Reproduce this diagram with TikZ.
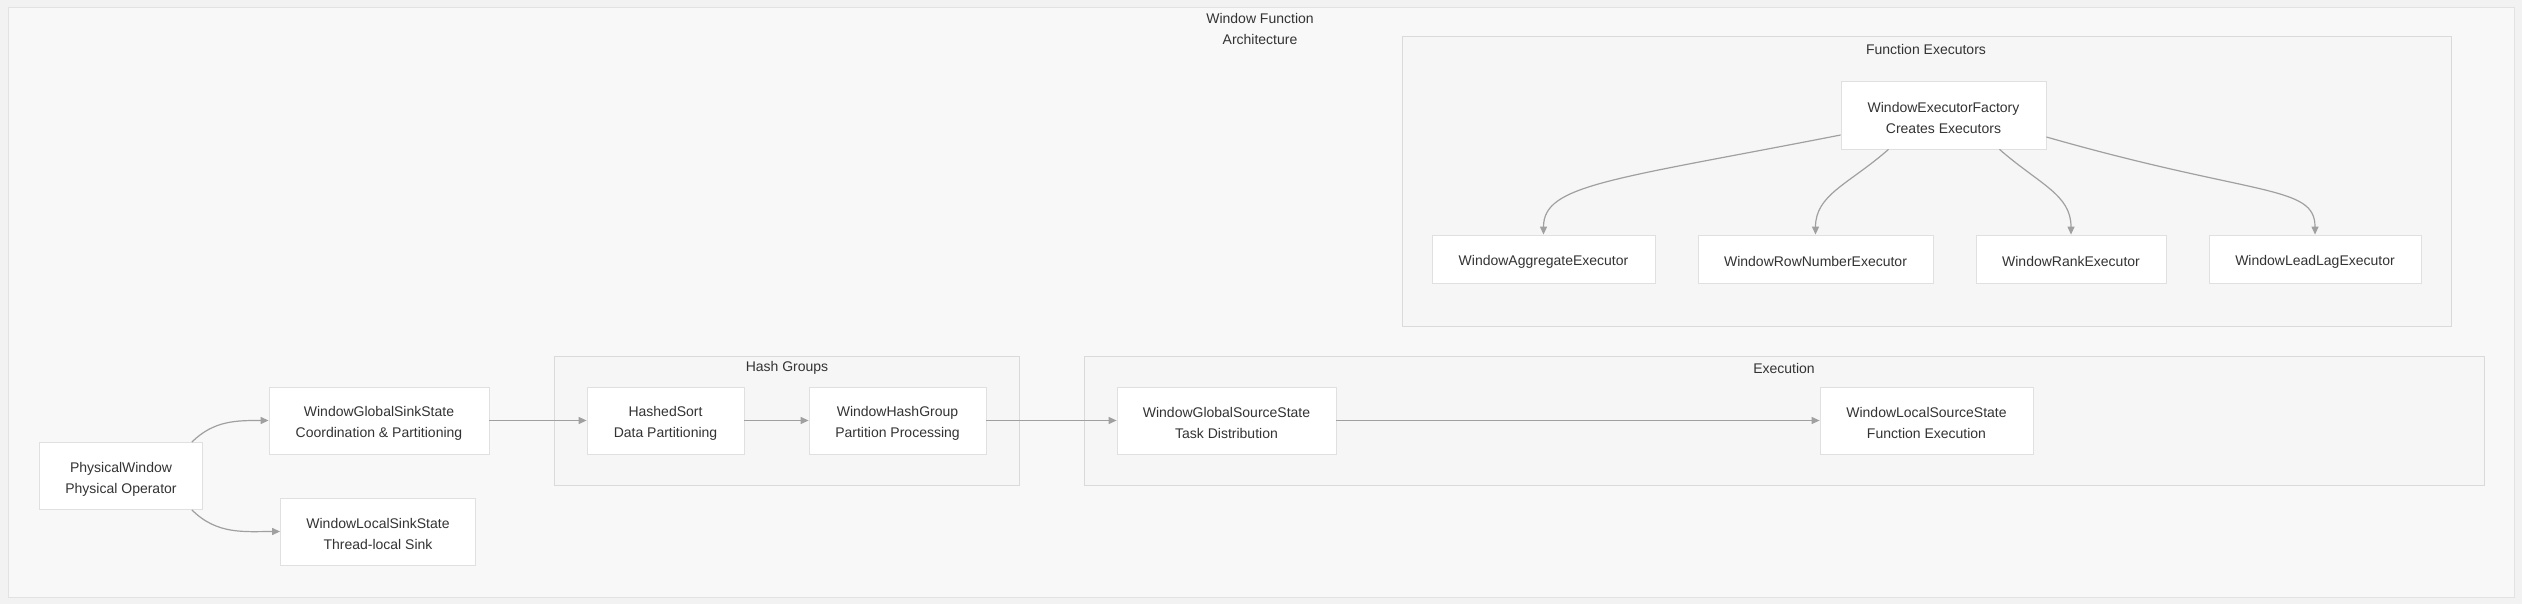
\documentclass[tikz,border=0pt]{standalone}
\usepackage{fontspec}
\setmainfont{Liberation Sans}
\usetikzlibrary{arrows.meta}
\definecolor{pagecol}{HTML}{F2F2F2}
\definecolor{framecol}{HTML}{F8F8F8}
\definecolor{frameline}{HTML}{E2E2E2}
\definecolor{clusfill}{HTML}{F6F6F6}
\definecolor{clusline}{HTML}{DADADA}
\definecolor{boxline}{HTML}{E0E0E0}
\definecolor{linkcol}{HTML}{A0A0A0}
\definecolor{textcol}{HTML}{333333}
\begin{document}
\begin{tikzpicture}[x=1pt, y=-1pt,
  every node/.style={font=\fontsize{14}{21}\selectfont, text=textcol},
  boxbase/.style={draw=boxline, fill=white, line width=0.8pt, align=center, inner sep=0pt},
  block/.style={boxbase, minimum height=67pt, execute at begin node={\rule{0pt}{37pt}}},
  flat/.style={boxbase, minimum height=48pt, execute at begin node={\rule{0pt}{16pt}}},
  cluster/.style={draw=clusline, fill=clusfill, line width=1pt},
  link/.style={draw=linkcol, line width=1.2pt, -{Triangle[length=8pt,width=7pt]}}]
  \useasboundingbox (0,0) rectangle (2522,604);
  \fill[pagecol] (0,0) rectangle (2522,604);
  \draw[draw=frameline, fill=framecol, line width=1pt] (8,8) rectangle (2514,597);
  \node[align=center] (title) at (1260,29) {Window Function\\Architecture};

  \draw[cluster] (1402,37) rectangle (2451,326);
  \node (execlbl) at (1926,49) {Function Executors};
  \draw[cluster] (554.5,356) rectangle (1019,485);
  \node (hashlbl) at (787,368) {Hash Groups};
  \draw[cluster] (1084,356) rectangle (2484.5,485);
  \node (runlbl) at (1784,368) {Execution};

  \node[block, minimum width=163pt] (pw) at (121,476) {PhysicalWindow\\Physical Operator};
  \node[block, minimum width=220pt] (gss) at (379,420.5) {WindowGlobalSinkState\\Coordination \& Partitioning};
  \node[block, minimum width=195pt] (lss) at (378,531.5) {WindowLocalSinkState\\Thread-local Sink};
  \node[block, minimum width=157pt] (hs) at (665.5,420.5) {HashedSort\\Data Partitioning};
  \node[block, minimum width=177pt] (hg) at (897.5,420.5) {WindowHashGroup\\Partition Processing};
  \node[block, minimum width=219pt] (gsrc) at (1226.5,420.5) {WindowGlobalSourceState\\Task Distribution};
  \node[block, minimum width=213pt] (lsrc) at (1926.5,420.5) {WindowLocalSourceState\\Function Execution};

  \node[block, minimum width=205pt, minimum height=68pt] (fac) at (1943.5,115) {WindowExecutorFactory\\Creates Executors};
  \node[flat, minimum width=223pt] (agg) at (1543.5,259) {WindowAggregateExecutor};
  \node[flat, minimum width=235pt] (rown) at (1815.5,259) {WindowRowNumberExecutor};
  \node[flat, minimum width=190pt] (rank) at (2071,259) {WindowRankExecutor};
  \node[flat, minimum width=212pt] (lead) at (2315,259) {WindowLeadLagExecutor};

  \draw[link] ([xshift=-11pt]pw.north east) to[out=45, in=180] (gss.west);
  \draw[link] ([xshift=-11pt]pw.south east) to[out=-45, in=180] (lss.west);
  \draw[link] (gss) -- (hs);
  \draw[link] (hs) -- (hg);
  \draw[link] (hg) -- (gsrc);
  \draw[link] (gsrc) -- (lsrc);
  \draw[link] ([yshift=-20pt]fac.west) .. controls +(-230,45) and +(0,-50) .. (agg.north);
  \draw[link] ([xshift=-55pt]fac.south) .. controls +(-40,35) and +(0,-40) .. (rown.north);
  \draw[link] ([xshift=56pt]fac.south) .. controls +(40,35) and +(0,-40) .. (rank.north);
  \draw[link] ([yshift=-22pt]fac.east) .. controls +(210,60) and +(0,-50) .. (lead.north);
\end{tikzpicture}
\end{document}
